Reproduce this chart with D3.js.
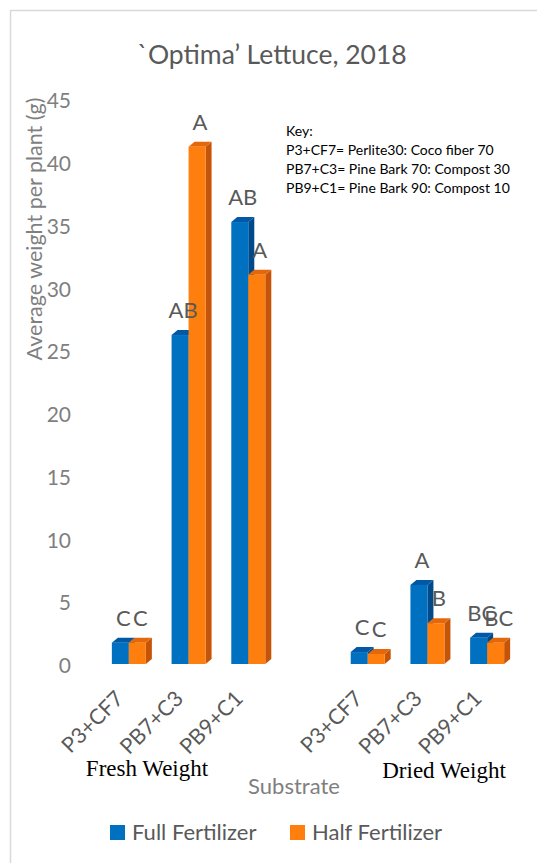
<!DOCTYPE html>
<html>
<head>
<meta charset="utf-8">
<script src="https://cdn.jsdelivr.net/npm/d3@7"></script>
<style>
  html, body { margin: 0; padding: 0; background: #fff; }
  svg { display: block; font-family: Lato, "Open Sans", sans-serif; }
</style>
</head>
<body>
<div id="chart"></div>
<script>
// ── Data ──────────────────────────────────────────────────────────
const substrates = ['P3+CF7', 'PB7+C3', 'PB9+C1'];
const groupNames = ['Fresh Weight', 'Dried Weight'];
const seriesNames = ['Full Fertilizer', 'Half Fertilizer'];

const freshFull = [1.7, 26.2, 35.2];
const freshHalf = [1.7, 41.2, 31.0];
const driedFull = [0.95, 6.3, 2.1];
const driedHalf = [0.8, 3.25, 1.7];

const freshFullLetters = ['C', 'AB', 'AB'];
const freshHalfLetters = ['C', 'A', 'A'];
const driedFullLetters = ['C', 'A', 'BC'];
const driedHalfLetters = ['C', 'B', 'BC'];

const yTicks = [0, 5, 10, 15, 20, 25, 30, 35, 40, 45];

const keyLines = [
  'Key:',
  'P3+CF7= Perlite30: Coco fiber 70',
  'PB7+C3= Pine Bark 70: Compost 30',
  'PB9+C1= Pine Bark 90: Compost 10'
];

// ── Setup ─────────────────────────────────────────────────────────
const W = 537, H = 863;
const COLORS = {
  'Full Fertilizer': { front: '#0070c0', top: '#0058a6', side: '#004a8c' },
  'Half Fertilizer': { front: '#ff7f0e', top: '#e4680a', side: '#c55308' }
};
const DX = 6, DY = 5;          // 3D depth offsets
const textDark = '#595959';
const textGray = '#7f7f7f';

// slots: 3 fresh, one blank spacer, 3 dried
const slots = [
  ...substrates.map(s => 'F|' + s),
  'gap',
  ...substrates.map(s => 'D|' + s)
];

const rows = [];
substrates.forEach((s, i) => {
  rows.push({ slot: 'F|' + s, series: seriesNames[0], value: freshFull[i], letter: freshFullLetters[i] });
  rows.push({ slot: 'F|' + s, series: seriesNames[1], value: freshHalf[i], letter: freshHalfLetters[i] });
});
substrates.forEach((s, i) => {
  rows.push({ slot: 'D|' + s, series: seriesNames[0], value: driedFull[i], letter: driedFullLetters[i] });
  rows.push({ slot: 'D|' + s, series: seriesNames[1], value: driedHalf[i], letter: driedHalfLetters[i] });
});

const svg = d3.select('#chart').append('svg')
  .attr('width', W)
  .attr('height', H);

// chart area border (runs off the right and bottom of the picture)
svg.append('rect')
  .attr('x', 10.5).attr('y', 10.5)
  .attr('width', W + 20).attr('height', H + 20)
  .attr('fill', 'none')
  .attr('stroke', '#d9d9d9')
  .attr('stroke-width', 1.5);

const x = d3.scaleBand()
  .domain(slots)
  .range([99, 517]);

const xIn = d3.scaleBand()
  .domain(seriesNames)
  .range([x.bandwidth() / 2 - 17, x.bandwidth() / 2 + 17]);

const y = d3.scaleLinear()
  .domain([0, 45])
  .range([664, 99]);

// ── Title ─────────────────────────────────────────────────────────
svg.append('text')
  .attr('x', 272).attr('y', 64)
  .attr('text-anchor', 'middle')
  .attr('font-size', 26.5)
  .attr('fill', textDark)
  .text('`Optima\u2019 Lettuce, 2018');

// ── Y axis ────────────────────────────────────────────────────────
const yAxis = svg.append('g')
  .attr('transform', 'translate(71,2)')
  .call(d3.axisLeft(y).tickValues(yTicks).tickSize(0).tickPadding(0));
yAxis.select('.domain').remove();
yAxis.selectAll('text')
  .attr('font-family', 'Lato, sans-serif')
  .attr('font-size', 21)
  .attr('fill', textGray);

svg.append('text')
  .attr('transform', 'translate(42,229) rotate(-90)')
  .attr('text-anchor', 'middle')
  .attr('font-size', 21.5)
  .attr('fill', textGray)
  .text('Average weight per plant (g)');

// ── Bars (3D look) ────────────────────────────────────────────────
const bars = svg.append('g');
rows.forEach(d => {
  const x0 = x(d.slot) + xIn(d.series);
  const w = xIn.bandwidth();
  const yt = y(d.value);
  const yb = y(0);
  const c = COLORS[d.series];
  const g = bars.append('g');

  g.append('path')
    .attr('d', `M${x0 + w},${yt} L${x0 + w + DX},${yt - DY} L${x0 + w + DX},${yb - DY} L${x0 + w},${yb} Z`)
    .attr('fill', c.side);
  g.append('path')
    .attr('d', `M${x0},${yt} L${x0 + DX},${yt - DY} L${x0 + w + DX},${yt - DY} L${x0 + w},${yt} Z`)
    .attr('fill', c.top);
  g.append('rect')
    .attr('x', x0).attr('y', yt)
    .attr('width', w).attr('height', yb - yt)
    .attr('fill', c.front);
});

// significance letters
svg.append('g').selectAll('text')
  .data(rows)
  .join('text')
  .attr('x', d => x(d.slot) + xIn(d.series) + xIn.bandwidth() / 2 + DX / 2)
  .attr('y', d => y(d.value) - 17)
  .attr('text-anchor', 'middle')
  .attr('font-size', 22)
  .attr('fill', textDark)
  .text(d => d.letter);

// ── Category labels ───────────────────────────────────────────────
svg.append('g').selectAll('text')
  .data(slots.filter(s => s !== 'gap'))
  .join('text')
  .attr('transform', s => `translate(${x(s) + x.bandwidth() / 2 - 4},${700}) rotate(-45)`)
  .attr('text-anchor', 'end')
  .attr('font-size', 21.5)
  .attr('fill', textDark)
  .text(s => s.split('|')[1]);

// group names (serif, as pasted in the original)
svg.append('text')
  .attr('x', 147).attr('y', 776)
  .attr('text-anchor', 'middle')
  .attr('font-family', '"Liberation Serif", serif')
  .attr('font-size', 23)
  .attr('fill', '#000')
  .text(groupNames[0]);
svg.append('text')
  .attr('x', 444).attr('y', 778)
  .attr('text-anchor', 'middle')
  .attr('font-family', '"Liberation Serif", serif')
  .attr('font-size', 23)
  .attr('fill', '#000')
  .text(groupNames[1]);

svg.append('text')
  .attr('x', 294).attr('y', 794)
  .attr('text-anchor', 'middle')
  .attr('font-size', 22)
  .attr('fill', textGray)
  .text('Substrate');

// ── Key box ───────────────────────────────────────────────────────
svg.append('g').selectAll('text')
  .data(keyLines)
  .join('text')
  .attr('x', 286)
  .attr('y', (d, i) => 136 + i * 19)
  .attr('font-size', 14)
  .attr('fill', '#000')
  .text(d => d);

// ── Legend ────────────────────────────────────────────────────────
const legendX = [110, 290];
const legend = svg.append('g').selectAll('g')
  .data(seriesNames)
  .join('g')
  .attr('transform', (d, i) => `translate(${legendX[i]},825)`);
legend.append('rect')
  .attr('width', 15).attr('height', 15)
  .attr('fill', d => COLORS[d].front);
legend.append('text')
  .attr('x', 22).attr('y', 15)
  .attr('font-size', 22)
  .attr('fill', textDark)
  .text(d => d);
</script>
</body>
</html>
